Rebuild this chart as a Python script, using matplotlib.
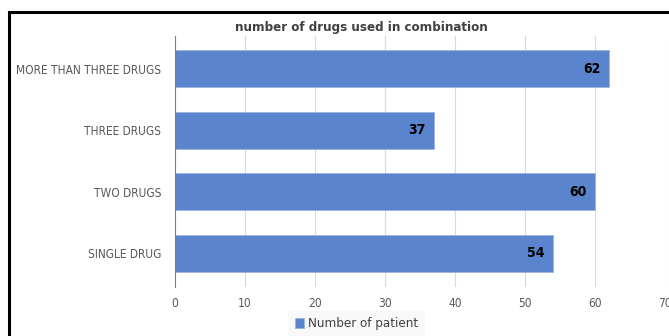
import matplotlib.pyplot as plt
from matplotlib.patches import Rectangle

categorias = ["SINGLE DRUG", "TWO DRUGS", "THREE DRUGS", "MORE THAN THREE DRUGS"]
pacientes = [54, 60, 37, 62]
ticks_x = [0, 10, 20, 30, 40, 50, 60, 70]

plt.rcParams['font.family'] = ['DejaVu Sans']
plt.rcParams['font.stretch'] = 'condensed'

fig = plt.figure(figsize=(6.69, 3.36), dpi=100)
ax = fig.add_axes([175 / 669, 1 - 287 / 336, 490 / 669, 251 / 336])

pos = list(range(len(categorias)))
barras = ax.barh(pos, pacientes, height=0.6, color="#5B84CE", edgecolor="#9DB4E3",
                 linewidth=0.6, label="Number of patient", zorder=3)
for p, v in zip(pos, pacientes):
    ax.text(v - 1.2, p, str(v), ha="right", va="center", fontsize=10,
            fontweight="bold", color="black", zorder=4)

ax.set_xlim(0, 70)
ax.set_ylim(-0.55, 3.53)
ax.set_xticks(ticks_x)
ax.set_yticks(pos)
ax.set_yticklabels(categorias)
ax.grid(axis="x", color="#D9D9D9", linewidth=0.8, zorder=0)
ax.tick_params(axis="both", length=0, labelsize=8.6, colors="#595959", pad=10)
ax.tick_params(axis="x", pad=7)
for lado in ["top", "right", "bottom"]:
    ax.spines[lado].set_visible(False)
ax.spines["left"].set_color("#7F7F7F")
ax.spines["left"].set_zorder(5)

fig.text(0.54, 1 - 28 / 336, "number of drugs used in combination", ha="center",
         va="center", fontsize=9.5, fontweight="bold", color="#404040")

leg = fig.legend(handles=[barras], loc="center", bbox_to_anchor=(0.533, 1 - 324 / 336),
                 frameon=True, fontsize=9.5, handlelength=0.7, handleheight=0.7,
                 handletextpad=0.3, borderpad=0.3)
leg.get_frame().set_facecolor("#F7F7F7")
leg.get_frame().set_edgecolor("none")
leg.get_frame().set_boxstyle("square", pad=0.2)
for t in leg.get_texts():
    t.set_color("#404040")

fig.patches.append(Rectangle((9 / 669, -0.1), 2, 1 - 12 / 336 + 0.1, transform=fig.transFigure,
                             fill=False, edgecolor="black", linewidth=2.2, zorder=10))

fig.savefig("out.png", dpi=100)
